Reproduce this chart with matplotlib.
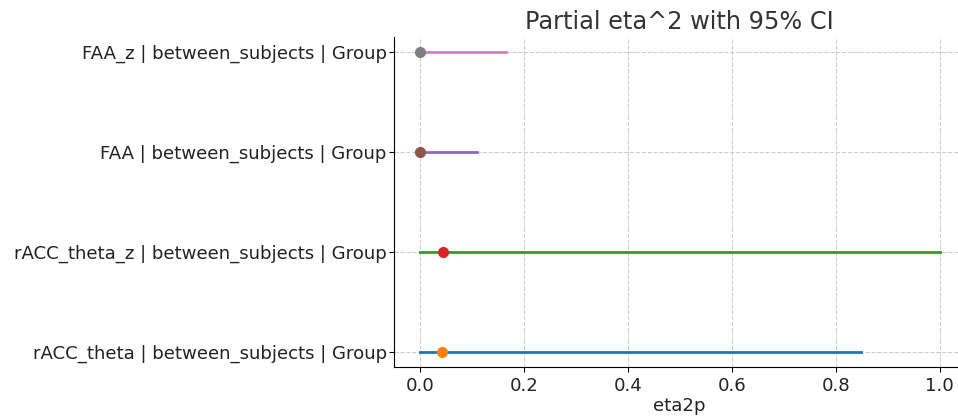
import matplotlib as mpl
mpl.use('Agg')
import matplotlib.pyplot as plt

# effekter og konfidensintervall
labels = ['rACC_theta | between_subjects | Group',
          'rACC_theta_z | between_subjects | Group',
          'FAA | between_subjects | Group',
          'FAA_z | between_subjects | Group']
eta2p = [0.042, 0.045, 0.001, 0.0]
ci_low = [0.0, 0.0, 0.0, 0.0]
ci_high = [0.848, 1.0, 0.11, 0.165]

fig, ax = plt.subplots(figsize=(9.58, 4.17), dpi=100)
fig.subplots_adjust(left=0.411, right=1.008, top=0.911, bottom=0.12)

for i in range(len(labels)):
    ax.plot([ci_low[i], ci_high[i]], [i, i], lw=2)
    ax.plot(eta2p[i], i, 'o', ms=7)

ax.set_yticks(range(len(labels)))
ax.set_yticklabels(labels, fontsize=13.1, color='#222222')
ax.tick_params(axis='y', pad=1.5)
ax.tick_params(axis='x', labelsize=13.1, labelcolor='#222222')
ax.set_xlabel('eta2p', fontsize=13.1, color='#222222', labelpad=2)
ax.set_title('Partial eta^2 with 95% CI', fontsize=17.3, color='#333333')
ax.grid(True, linestyle='--', color='#cccccc', lw=0.8)
ax.spines['top'].set_visible(False)
ax.spines['right'].set_visible(False)

plt.savefig('out.png')
